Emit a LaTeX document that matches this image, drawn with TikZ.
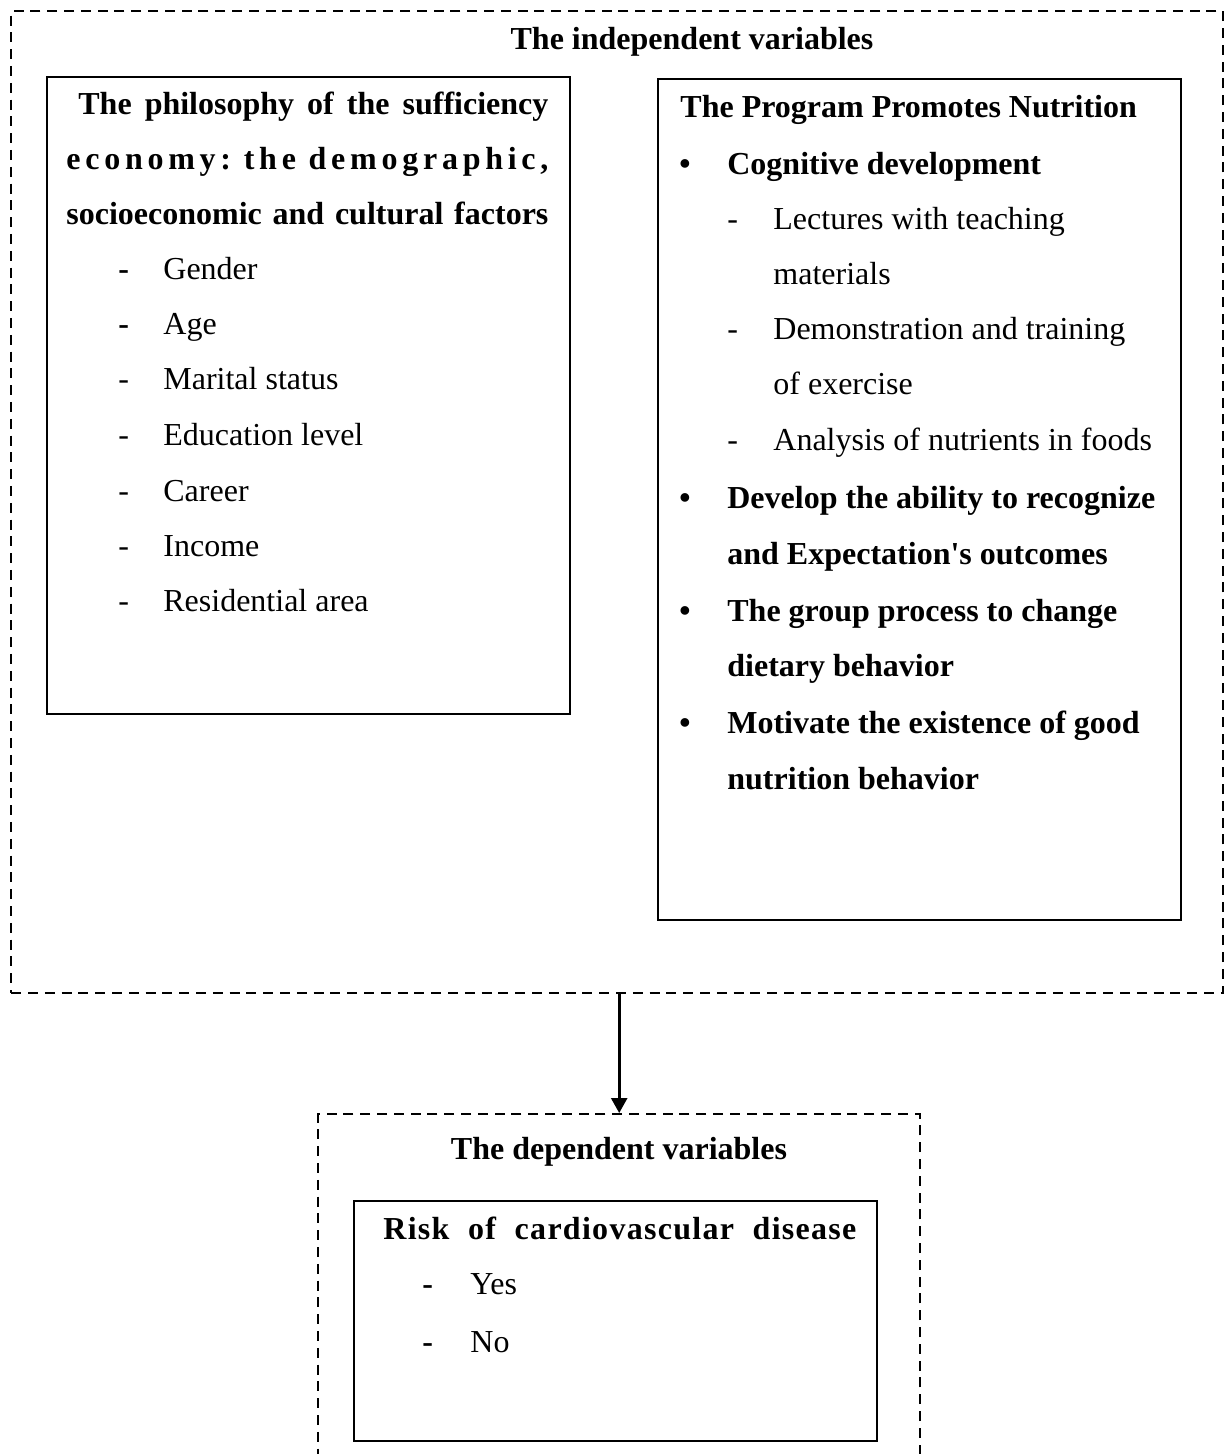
\documentclass[tikz,border=0pt]{standalone}
\usepackage{fontspec}
\setmainfont{Liberation Serif}[Ligatures=TeXOff]
\usetikzlibrary{arrows.meta}
\begin{document}
\begin{tikzpicture}[x=0.5pt,y=-0.5pt,
  txt/.style={inner sep=0pt, anchor=base west, font=\fontsize{16pt}{20pt}\selectfont},
  btxt/.style={txt, font=\fontsize{16pt}{20pt}\selectfont\bfseries},
  solidbox/.style={draw, line width=1pt, anchor=north west, inner sep=0pt},
  dashbox/.style={draw, line width=1.2pt, dash pattern=on 5pt off 3.4pt, anchor=north west, inner sep=0pt},
  link/.style={line width=1.3pt, -{Triangle[length=7.5pt,width=8pt]}}]
\clip (0,0) rectangle (1224,1454);

% outer dashed frame
\node[dashbox, minimum width=606pt, minimum height=491pt] (indep) at (10,10) {};
\node[btxt, anchor=base] (indeptitle) at (692,50) {The independent variables};

% left box
\node[solidbox, minimum width=261.5pt, minimum height=318.5pt] (leftbox) at (46,76) {};
\node[btxt] (lt1) at (78,115) {\makebox[235pt][s]{The philosophy of the sufficiency}};
\node[btxt] (lt2) at (66,170) {\makebox[241pt][s]{e\hfil c\hfil o\hfil n\hfil o\hfil m\hfil y\hfil :\hfil\ t\hfil h\hfil e\hfil\ d\hfil e\hfil m\hfil o\hfil g\hfil r\hfil a\hfil p\hfil h\hfil i\hfil c\hfil ,}};
\node[btxt] (lt3) at (66,225) {\makebox[241pt][s]{socioeconomic and cultural factors}};
\node[txt] (li1) at (118,280) {\makebox[22.5pt][l]{\textbf{-}}Gender};
\node[txt] (li2) at (118,335) {\makebox[22.5pt][l]{\textbf{-}}Age};
\node[txt] (li3) at (118,390) {\makebox[22.5pt][l]{-}Marital status};
\node[txt] (li4) at (118,445) {\makebox[22.5pt][l]{-}Education level};
\node[txt] (li5) at (118,501) {\makebox[22.5pt][l]{-}Career};
\node[txt] (li6) at (118,556) {\makebox[22.5pt][l]{-}Income};
\node[txt] (li7) at (118,611) {\makebox[22.5pt][l]{-}Residential area};

% right box
\node[solidbox, minimum width=261.5pt, minimum height=420.5pt] (rightbox) at (657,78) {};
\node[btxt] (rt0) at (680,118) {The Program Promotes Nutrition};
\node[btxt] (rb1) at (679,175) {\makebox[24pt][l]{•}Cognitive development};
\node[txt] (rs1) at (727,230) {\makebox[23pt][l]{-}Lectures with teaching};
\node[txt] (rs1b) at (773,285) {materials};
\node[txt] (rs2) at (727,340) {\makebox[23pt][l]{-}Demonstration and training};
\node[txt] (rs2b) at (773,395) {of exercise};
\node[txt] (rs3) at (727,451) {\makebox[23pt][l]{-}Analysis of nutrients in foods};
\node[btxt] (rb2) at (679,508) {\makebox[24pt][l]{•}Develop the ability to recognize};
\node[btxt] (rb2b) at (727,564) {and Expectation's outcomes};
\node[btxt] (rb3) at (679,621) {\makebox[24pt][l]{•}The group process to change};
\node[btxt] (rb3b) at (727,676) {dietary behavior};
\node[btxt] (rb4) at (679,733) {\makebox[24pt][l]{•}Motivate the existence of good};
\node[btxt] (rb4b) at (727,789) {nutrition behavior};

% bottom dashed frame
\node[dashbox, minimum width=301pt, minimum height=180pt] (dep) at (317,1113) {};
\node[btxt, anchor=base] (deptitle) at (619,1159) {The dependent variables};
\node[solidbox, minimum width=261.5pt, minimum height=120pt] (riskbox) at (353,1200) {};
\node[btxt] (risk) at (383,1239) {\addfontfeature{LetterSpace=4}\makebox[236.5pt][s]{Risk of cardiovascular disease}};
\node[txt] (yes) at (422,1294) {\makebox[24pt][l]{\textbf{-}}Yes};
\node[txt] (no) at (422,1352) {\makebox[24pt][l]{\textbf{-}}No};

% connector
\draw[link] (indep.south -| dep.north) -- (dep.north);
\end{tikzpicture}
\end{document}
